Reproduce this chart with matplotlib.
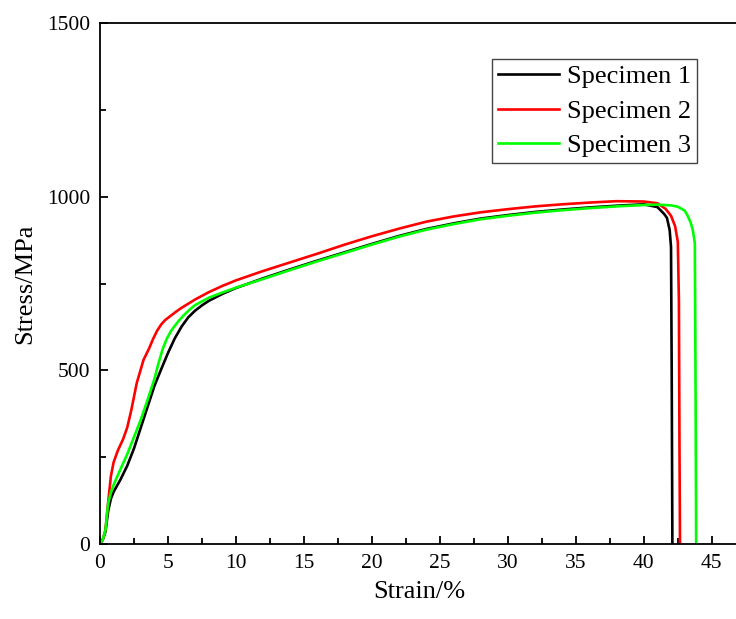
import numpy as np
import matplotlib
matplotlib.use("Agg")
import matplotlib.pyplot as plt
from matplotlib.ticker import MultipleLocator

plt.rcParams["font.family"] = ["Liberation Serif", "DejaVu Serif"]
plt.rcParams["mathtext.fontset"] = "stix"

# strain (%) / stress (MPa)
strain_1 = [0, 0.2, 0.4, 0.6, 0.8, 1.0, 1.5, 2.0, 2.5, 3.0, 3.5, 4.0, 4.5, 5.0, 5.5, 6.0, 6.5,
            7.0, 7.5, 8.0, 9.0, 10, 12, 14, 16, 18, 20, 22, 24, 26, 28, 30, 32, 34, 36, 38, 40,
            41, 41.5, 41.7, 41.9, 42.0, 42.05, 42.1]
stress_1 = [0, 12, 35, 95, 130, 150, 185, 225, 275, 335, 395, 455, 503, 550, 592, 626, 653,
            672, 687, 700, 720, 737, 765, 791, 816, 840, 864, 887, 907, 923, 937, 947, 956, 963, 969, 974, 978,
            970, 950, 939, 904, 855, 500, 0]

strain_2 = [0, 0.2, 0.4, 0.6, 0.8, 1.0, 1.3, 1.7, 2.0, 2.3, 2.7, 3.2, 3.6, 3.9, 4.2, 4.5, 4.8,
            5.2, 5.6, 6.0, 7.0, 8.0, 9.0, 10, 12, 14, 16, 18, 20, 22, 24, 26, 28, 30, 32, 34, 36, 38, 40,
            41, 41.6, 42.0, 42.3, 42.5, 42.58, 42.62, 42.66]
stress_2 = [0, 12, 40, 120, 195, 235, 268, 302, 335, 385, 463, 530, 562, 590, 614, 632, 645,
            657, 669, 680, 704, 725, 743, 759, 786, 811, 836, 862, 886, 908, 928, 943, 955, 964, 972, 978, 983, 987, 986,
            981, 965, 945, 915, 870, 700, 300, 0]

strain_3 = [0, 0.2, 0.4, 0.6, 0.8, 1.0, 1.5, 2.0, 2.5, 3.0, 3.5, 4.0, 4.3, 4.6, 4.9, 5.2, 5.5,
            5.8, 6.2, 6.6, 7.0, 8.0, 9.0, 10, 12, 14, 16, 18, 20, 22, 24, 26, 28, 30, 32, 34, 36, 38, 40,
            41, 42, 42.5, 43.0, 43.2, 43.45, 43.6, 43.75, 43.8, 43.85]
stress_3 = [0, 12, 40, 117, 148, 170, 215, 258, 308, 358, 415, 475, 520, 560, 590, 612, 628,
            643, 660, 675, 688, 709, 724, 738, 763, 789, 814, 838, 862, 885, 905, 921, 935, 945, 954, 961, 967, 972, 976,
            977, 975, 971, 960, 947, 925, 904, 867, 500, 0]

labels = ["Specimen 1", "Specimen 2", "Specimen 3"]
colors = ["#000000", "#ff0000", "#00ff00"]

fig = plt.figure(figsize=(7.36, 6.19), dpi=100)
ax = fig.add_axes([100/736, 75/619, 639/736, 521/619])

for xs, ys, lab, c in zip([strain_1, strain_2, strain_3], [stress_1, stress_2, stress_3], labels, colors):
    ax.plot(xs, ys, color=c, lw=1.9, label=lab, solid_joinstyle="round")

ax.set_xlim(0, 47)
ax.set_ylim(0, 1500)
ax.xaxis.set_major_locator(MultipleLocator(5))
ax.xaxis.set_minor_locator(MultipleLocator(2.5))
ax.yaxis.set_major_locator(MultipleLocator(500))
ax.yaxis.set_minor_locator(MultipleLocator(250))
ax.tick_params(which="both", direction="in", top=False, right=False, width=1.3, labelsize=15.5, pad=7)
ax.tick_params(which="major", length=6)
ax.tick_params(which="minor", length=4)
for s in ["left", "bottom", "top"]:
    ax.spines[s].set_linewidth(1.3)
ax.spines["right"].set_visible(False)

ax.set_xlabel("Strain/%", fontsize=19, labelpad=6)
ax.set_ylabel("Stress/MPa", fontsize=19, labelpad=8)

leg = ax.legend(loc="upper right", bbox_to_anchor=(0.934, 0.931), borderaxespad=0,
                fontsize=19, fancybox=False, framealpha=1, edgecolor="#444444",
                handlelength=2.3, handletextpad=0.3, labelspacing=0.42, borderpad=0.22)
leg.get_frame().set_linewidth(1.0)

fig.savefig("out.png", dpi=100)
